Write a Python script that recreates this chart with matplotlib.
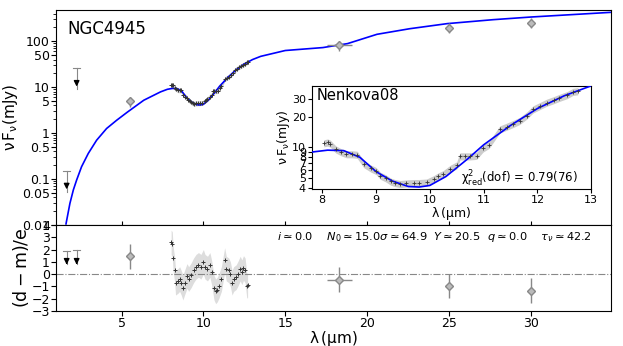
import matplotlib.pyplot as plt
import numpy as np

# model SED (blue line)
mod_lam = [1.61, 1.85, 2.06, 2.26, 2.56, 2.97, 3.48, 4.09, 4.7, 5.35, 6.36,
           7.38, 7.8, 8.1, 8.4, 8.7, 9.0, 9.3, 9.6, 9.8, 10.0, 10.3, 10.7,
           11.0, 11.5, 12.0, 12.5, 13.0, 13.5, 15.0, 17.3, 18.8, 20.6, 22.6,
           24.9, 27.7, 30.0, 35.0]
mod_flux = [0.0105, 0.0295, 0.058, 0.095, 0.185, 0.36, 0.70, 1.26, 1.9, 2.85,
            5.2, 7.9, 9.0, 9.4, 9.3, 8.0, 5.8, 4.7, 4.15, 4.1, 4.25, 5.2, 7.7,
            10.6, 16.4, 24.0, 32.0, 40.0, 47, 63, 73, 89, 142, 188,
            243, 296, 338, 430]

# spectrum (black crosses)
spec_lam = [8.03, 8.1, 8.15, 8.25, 8.35, 8.45, 8.55, 8.65, 8.77, 8.9, 9.0, 9.08,
            9.18, 9.27, 9.35, 9.45, 9.55, 9.7, 9.8, 9.94, 10.07, 10.15, 10.25,
            10.38, 10.5, 10.56, 10.65, 10.75, 10.87, 10.99, 11.1, 11.3, 11.43,
            11.55, 11.67, 11.8, 11.92, 12.05, 12.17, 12.3, 12.41, 12.55, 12.66,
            12.75]
spec_flux = [11.0, 11.2, 10.9, 9.6, 9.0, 8.6, 8.6, 8.5, 6.9, 6.25, 5.9, 5.3,
             5.0, 4.65, 4.5, 4.4, 4.45, 4.5, 4.5, 4.55, 4.9, 5.2, 5.5,
             6.2, 6.7, 8.2, 8.2, 8.2, 8.3, 9.8, 10.6, 15.0, 16.0,
             17.0, 18.2, 20.5, 23.6, 25.5, 27.4, 29.0, 30.6, 32.5, 35.0,
             35.5]

# photometry
phot_lam = [5.5, 18.3, 25.0, 30.0]
phot_flux = [5.0, 82, 199, 256]
phot_xerr = [0.0, 0.76, 0.0, 0.0]
phot_res = [1.45, -0.45, -0.95, -1.35]

# upper limits
lim_lam = [1.65, 2.26]
lim_flux = [0.15, 26]
lim_res = [1.85, 2.0]

# spectral residuals
res_lam = [8.03, 8.1, 8.15, 8.25, 8.3, 8.45, 8.55, 8.65, 8.75, 8.85, 9.0, 9.1,
           9.25, 9.4, 9.55, 9.7, 9.85, 10.0, 10.1, 10.25, 10.4, 10.5, 10.65,
           10.75, 10.85, 10.95, 11.1, 11.3, 11.4, 11.55, 11.65, 11.75, 11.85,
           12.0, 12.1, 12.25, 12.35, 12.45, 12.55, 12.65, 12.7]
res_val = [2.58, 2.44, 1.3, 0.3, -0.7, -0.55, -0.4, -0.7, -1.1, -0.7, -0.15,
           -0.4, -0.1, 0.3, 0.6, 0.75, 0.6, 1.0, 0.6, 0.45, 0.75, 0.15, -1.1,
           -1.4, -1.25, -0.95, -0.4, 1.15, 0.45, 0.3, 0.0, -0.7, -0.4, -0.25,
           0.0, 0.45, 0.15, 0.5, 0.3, -0.95, -0.9]

spec_lam_a = np.array(spec_lam)
spec_flux_a = np.array(spec_flux)
res_lam_a = np.array(res_lam)
res_a = np.array(res_val)

fig = plt.figure(figsize=(6.23, 3.46), dpi=100)
ax = fig.add_axes([0.0899, 0.350, 0.891, 0.621])
axr = fig.add_axes([0.0899, 0.101, 0.891, 0.249], sharex=ax)
axi = fig.add_axes([0.500, 0.453, 0.449, 0.299])

# main panel
ax.plot(mod_lam, mod_flux, color='blue', lw=1.2, zorder=3)
ax.fill_between(spec_lam_a, spec_flux_a * 0.88, spec_flux_a * 1.12,
                color='#cccccc', lw=0, zorder=2)
ax.plot(spec_lam, spec_flux, '+', color='#333333', ms=3, mew=0.7, zorder=4)
ax.errorbar(phot_lam, phot_flux, yerr=[np.array(phot_flux) * 0.25] * 2,
            xerr=phot_xerr, fmt='D', ms=4, mfc='#bbbbbb', mec='#888888',
            ecolor='#888888', elinewidth=1, zorder=5)
for l, f in zip(lim_lam, lim_flux):
    ax.plot([l, l], [f, f / 2.9], color='#888888', lw=0.8)
    ax.plot([l - 0.2, l + 0.2], [f, f], color='#888888', lw=0.8)
    ax.annotate('', xy=(l, f / 2.9), xytext=(l, f / 1.7),
                arrowprops=dict(arrowstyle='-|>', color='black', lw=1,
                                mutation_scale=8))
ax.set_yscale('log')
ax.set_ylim(0.01, 480)
ax.set_xlim(1.0, 34.9)
ax.set_yticks([0.01, 0.05, 0.1, 0.5, 1, 5, 10, 50, 100])
ax.set_yticklabels(['0.01', '0.05', '0.1', '0.5', '1', '5', '10', '50', '100'])
ax.tick_params(axis='x', direction='inout', length=6, labelbottom=False)
ax.tick_params(axis='y', labelsize=9, pad=1)
ax.set_ylabel(r'$\mathregular{\nu\,F_\nu(mJy)}$', fontsize=11, labelpad=1)
ax.text(0.02, 0.91, 'NGC4945', transform=ax.transAxes, fontsize=12,
        va='center', ha='left')

# inset
axi.plot(mod_lam, mod_flux, color='blue', lw=1.2, zorder=3)
axi.fill_between(spec_lam_a, spec_flux_a * 0.92, spec_flux_a * 1.08,
                 color='#cccccc', lw=0, zorder=2)
axi.plot(spec_lam, spec_flux, '+', color='#333333', ms=3, mew=0.6, zorder=4)
axi.set_yscale('log')
axi.set_xlim(7.8, 13)
axi.set_ylim(3.9, 40)
axi.set_yticks([4, 5, 6, 7, 8, 9, 10, 20, 30])
axi.set_yticklabels(['4', '5', '6', '7', '8', '9', '10', '20', '30'])
axi.yaxis.set_minor_locator(plt.NullLocator())
axi.tick_params(labelsize=8, length=3, pad=1)
axi.set_xlabel(r'$\mathregular{\lambda\,(\mu m)}$', fontsize=9, labelpad=0)
axi.set_ylabel(r'$\mathregular{\nu\,F_\nu(mJy)}$', fontsize=9, labelpad=0)
axi.text(0.018, 0.86, 'Nenkova08', transform=axi.transAxes, fontsize=10.5)
axi.text(0.95, 0.06, r'$\mathregular{\chi^2_{red}(dof)}$ = 0.79(76)',
         transform=axi.transAxes, fontsize=8.5, ha='right')

# residuals
axr.axhline(0, color='#888888', ls='-.', lw=0.8)
axr.fill_between(res_lam_a, res_a - 1, res_a + 1, color='#dddddd', lw=0)
axr.plot(res_lam, res_val, '+', color='#333333', ms=3, mew=0.7)
axr.errorbar(phot_lam, phot_res, yerr=1.0, xerr=phot_xerr, fmt='D', ms=4,
             mfc='#bbbbbb', mec='#888888', ecolor='#888888', elinewidth=1)
for l, r in zip(lim_lam, lim_res):
    axr.plot([l, l], [r, 0.8], color='#888888', lw=0.8)
    axr.plot([l - 0.2, l + 0.2], [r, r], color='#888888', lw=0.8)
    axr.annotate('', xy=(l, 0.55), xytext=(l, 1.2),
                 arrowprops=dict(arrowstyle='-|>', color='black', lw=1,
                                 mutation_scale=8))
axr.set_ylim(-3, 4)
axr.set_yticks(range(-3, 5))
axr.set_xticks([5, 10, 15, 20, 25, 30])
axr.tick_params(labelsize=9, pad=1)
axr.set_xlabel(r'$\mathregular{\lambda\,(\mu m)}$', fontsize=11, labelpad=-1)
axr.set_ylabel(r'$\mathregular{(d-m)/e}$', fontsize=12.5, labelpad=0)
axr.text(0.965, 0.86,
         r'$i\simeq$0.0    $N_0\simeq$15.0$\sigma\simeq$64.9  $Y\simeq$20.5  '
         r'$q\simeq$0.0    $\tau_\nu\simeq$42.2',
         transform=axr.transAxes, fontsize=8.2, ha='right', va='center')

fig.savefig('out.png', dpi=100)
